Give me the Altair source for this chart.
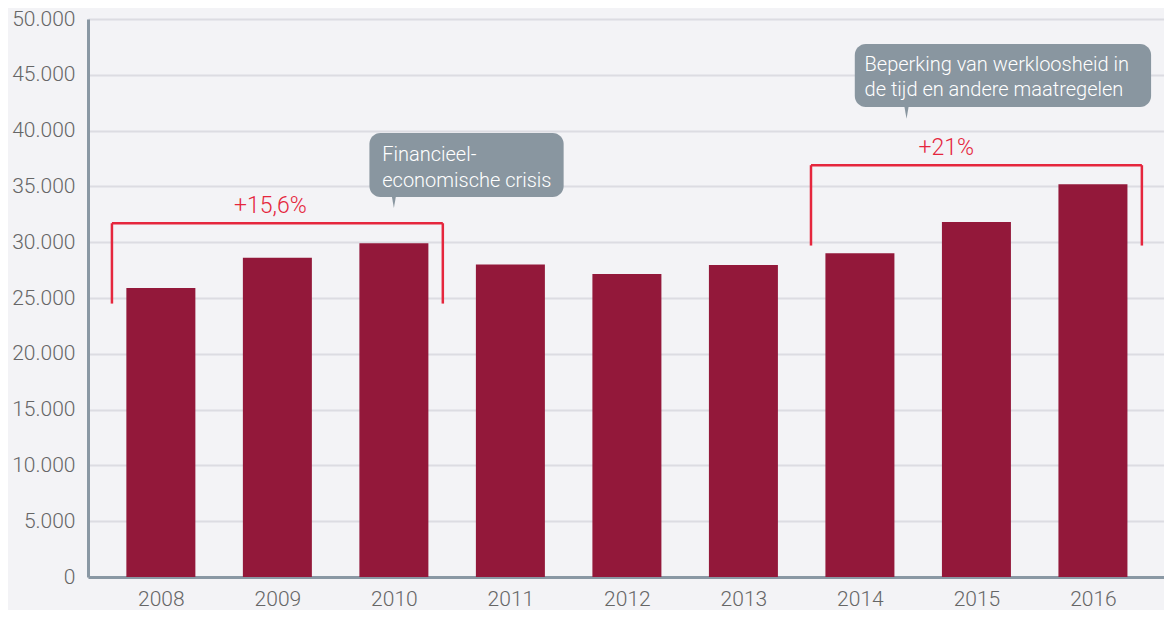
import altair as alt
import pandas as pd

# ---- data ----
years = [2008, 2009, 2010, 2011, 2012, 2013, 2014, 2015, 2016]
values = [25900, 28600, 29900, 28000, 27150, 27950, 29000, 31800, 35200]

# brackets (growth periods)
bracket_labels = ["+15,6%", "+21%"]
bracket_start = [2008, 2014]
bracket_end = [2010, 2016]
bracket_low = [24500, 29700]
bracket_high = [31700, 36900]
bracket_label_x = [2008.94, 2014.74]
bracket_label_y = [33250, 38450]

# callouts
callout_line1 = ["Financieel-", "Beperking van werkloosheid in"]
callout_line2 = ["economische crisis", "de tijd en andere maatregelen"]
callout_x1 = [2009.79, 2013.956]
callout_x2 = [2011.457, 2016.499]
callout_y1 = [34050, 42110]
callout_y2 = [39780, 47760]
callout_text_x = [2009.90, 2014.04]
callout_line1_y = [37810, 45880]
callout_line2_y = [35480, 43640]
pointer_x = [2010.0, 2014.4]
pointer_y = [33600, 41600]

# ---- styling ----
BG = "#f3f3f6"
BAR = "#93183a"
RED = "#e5263d"
BOX = "#8996a0"
FONT = "Roboto"
OFF = 0.42

xscale = alt.Scale(domain=[2007.4175, 2016.567], nice=False, zero=False)
yscale = alt.Scale(domain=[0, 50000], nice=False)

bars_df = pd.DataFrame({"year": years, "value": values})

bars = alt.Chart(bars_df).mark_bar(size=69, color=BAR).encode(
    x=alt.X("year:Q", scale=xscale, title=None,
            axis=alt.Axis(values=years, format="d", grid=False, ticks=False,
                          labelPadding=11, domainColor="#8a98a4", domainWidth=3,
                          labelFontSize=21, labelColor="#666666", labelFont=FONT,
                          labelFontWeight=300, title=None)),
    y=alt.Y("value:Q", scale=yscale, title=None,
            axis=alt.Axis(values=list(range(0, 50001, 5000)), ticks=False,
                          labelPadding=13, domainColor="#8a98a4", domainWidth=3,
                          gridColor="#dcdce2", gridWidth=2,
                          labelExpr="replace(format(datum.value, ','), ',', '.')",
                          labelFontSize=21, labelColor="#666666", labelFont=FONT,
                          labelFontWeight=300, title=None)),
)

br_df = pd.DataFrame({
    "label": bracket_labels,
    "xs": [s - OFF for s in bracket_start],
    "xe": [e + OFF for e in bracket_end],
    "lo": bracket_low,
    "hi": bracket_high,
    "lx": bracket_label_x,
    "ly": bracket_label_y,
})

rule_kw = dict(color=RED, strokeWidth=2.5)
left_rule = alt.Chart(br_df).mark_rule(**rule_kw).encode(
    x=alt.X("xs:Q", scale=xscale, title=None),
    y=alt.Y("lo:Q", scale=yscale, title=None), y2="hi:Q")
right_rule = alt.Chart(br_df).mark_rule(**rule_kw).encode(
    x=alt.X("xe:Q", scale=xscale, title=None),
    y=alt.Y("lo:Q", scale=yscale, title=None), y2="hi:Q")
top_rule = alt.Chart(br_df).mark_rule(**rule_kw).encode(
    x=alt.X("xs:Q", scale=xscale, title=None), x2="xe:Q",
    y=alt.Y("hi:Q", scale=yscale, title=None))
br_text = alt.Chart(br_df).mark_text(
    color=RED, fontSize=23, font=FONT, fontWeight=300, baseline="middle", align="center"
).encode(
    x=alt.X("lx:Q", scale=xscale, title=None),
    y=alt.Y("ly:Q", scale=yscale, title=None),
    text="label:N")

co_df = pd.DataFrame({
    "x1": callout_x1, "x2": callout_x2, "y1": callout_y1, "y2": callout_y2,
    "px": pointer_x, "py": pointer_y,
})
boxes = alt.Chart(co_df).mark_rect(color=BOX, cornerRadius=11).encode(
    x=alt.X("x1:Q", scale=xscale, title=None), x2="x2:Q",
    y=alt.Y("y1:Q", scale=yscale, title=None), y2="y2:Q")
pointers = alt.Chart(co_df).mark_point(
    shape="M-0.35,-1L0.35,-1L0,1Z", size=144, filled=True, color=BOX, opacity=1, strokeWidth=0
).encode(
    x=alt.X("px:Q", scale=xscale, title=None),
    y=alt.Y("py:Q", scale=yscale, title=None))

lines_df = pd.DataFrame({
    "text": callout_line1 + callout_line2,
    "tx": callout_text_x + callout_text_x,
    "ty": callout_line1_y + callout_line2_y,
})
co_text = alt.Chart(lines_df).mark_text(
    color="white", fontSize=20, font=FONT, fontWeight=300, align="left", baseline="middle"
).encode(
    x=alt.X("tx:Q", scale=xscale, title=None),
    y=alt.Y("ty:Q", scale=yscale, title=None),
    text="text:N")

chart = alt.layer(
    bars, left_rule, right_rule, top_rule, br_text, boxes, pointers, co_text
).properties(
    width=1076, height=558,
    autosize=alt.AutoSizeParams(type="none"),
    padding={"left": 80, "top": 11, "right": 0, "bottom": 33},
    background=BG,
).configure_view(stroke=None)

chart.save("out.html", embed_options={"renderer": "svg", "actions": False})
